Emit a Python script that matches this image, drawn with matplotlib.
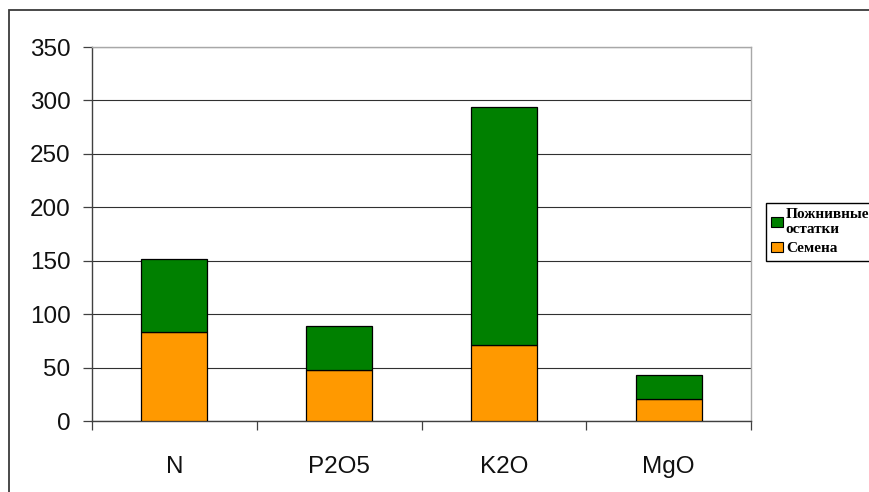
import matplotlib
matplotlib.use("Agg")
import matplotlib.pyplot as plt
from matplotlib.patches import Rectangle, Patch
import numpy as np

categories = ["N", "P2O5", "K2O", "MgO"]
seeds = [83, 48, 71, 21]          # Семена
residues = [69, 41, 223, 22]      # Пожнивные остатки
yticks = [0, 50, 100, 150, 200, 250, 300, 350]

W, H = 869, 492
dpi = 100
fig = plt.figure(figsize=(W / dpi, H / dpi), dpi=dpi)
fig.patch.set_facecolor("white")

def px(x0, y0, x1, y1):
    return [x0 / W, 1 - y1 / H, (x1 - x0) / W, (y1 - y0) / H]

# outer chart frame (extends beyond the image on right/bottom)
fig.add_artist(Rectangle((9 / W, -0.1), 1.2, 1 - 10 / H + 0.1, transform=fig.transFigure,
                         fill=False, edgecolor="#3a3a3a", linewidth=1.3))

ax = fig.add_axes(px(92, 47, 751, 421))
x = np.arange(len(categories))
green = "#008000"
orange = "#FF9900"
ax.bar(x, seeds, width=0.4, color=orange, edgecolor="black", linewidth=0.9, zorder=3)
ax.bar(x, residues, width=0.4, bottom=seeds, color=green, edgecolor="black", linewidth=0.9, zorder=3)

ax.set_xlim(-0.5, len(categories) - 0.5)
ax.set_ylim(0, 350)
ax.set_yticks(yticks)
ax.set_yticklabels([str(v) for v in yticks])
ax.yaxis.grid(True, color="#303030", linewidth=0.8, zorder=1)
ax.set_axisbelow(True)

ax.set_xticks(x)
ax.set_xticklabels(categories)
ax.set_xticks(np.arange(-0.5, len(categories)), minor=True)
ax.tick_params(axis="x", which="major", length=0, pad=25, labelsize=17.5)
ax.tick_params(axis="x", which="minor", length=6.5, width=0.9, color="#404040")
ax.tick_params(axis="y", which="major", length=6.5, width=0.9, color="#404040", pad=9, labelsize=17.5)
for lab in ax.get_xticklabels() + ax.get_yticklabels():
    lab.set_fontfamily("Liberation Sans")
    lab.set_color("#111111")

ax.spines["left"].set_color("#404040")
ax.spines["bottom"].set_color("#404040")
ax.spines["top"].set_color("#a8a8a8")
ax.spines["right"].set_color("#a8a8a8")
for s in ax.spines.values():
    s.set_linewidth(1.0)

handles = [Patch(facecolor=green, edgecolor="black", linewidth=0.8),
           Patch(facecolor=orange, edgecolor="black", linewidth=0.8)]
labels = ["Пожнивные\nостатки", "Семена"]
leg = fig.legend(handles, labels, loc="upper left",
                 bbox_to_anchor=(766 / W, 1 - 203 / H), bbox_transform=fig.transFigure,
                 frameon=True, fancybox=False, edgecolor="black", framealpha=1,
                 prop={"family": "Liberation Serif", "weight": "bold", "size": 11},
                 handlelength=0.75, handleheight=0.7, handletextpad=0.2,
                 borderpad=0.35, labelspacing=0.35, borderaxespad=0)
leg.get_frame().set_linewidth(1.0)

fig.savefig("out.png", dpi=dpi)
